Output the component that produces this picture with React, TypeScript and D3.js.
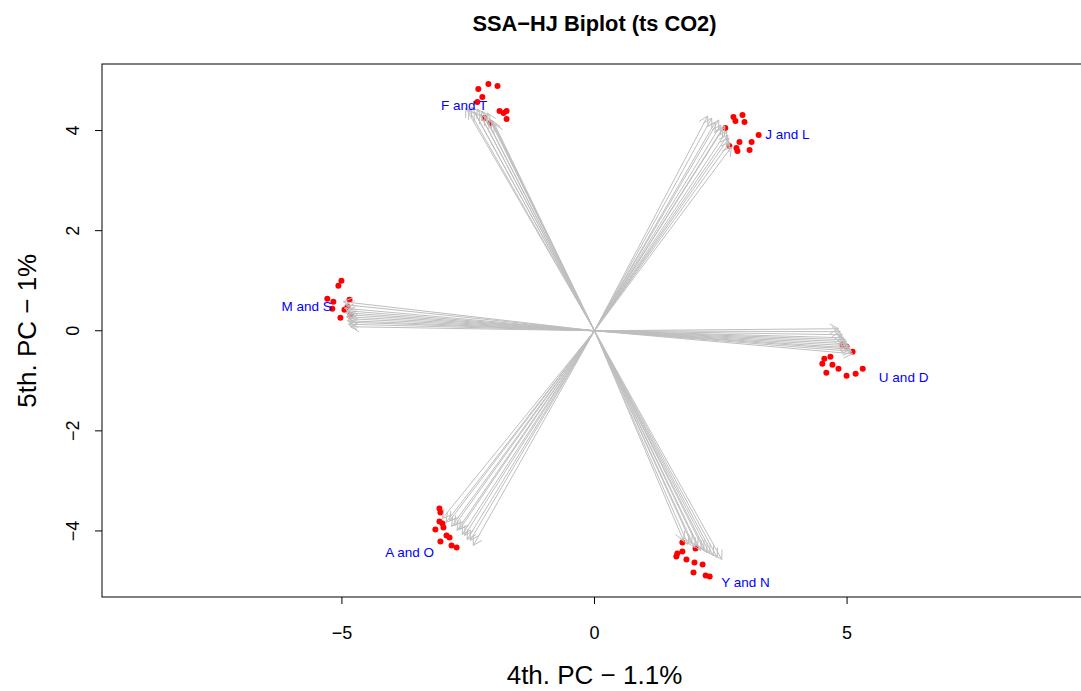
import React from "react";
import * as d3 from "d3";

// Arrow tips (loadings) per group
const groupNames = ["F and T", "J and L", "M and S", "U and D", "A and O", "Y and N"];

const arrowsFT: [number, number][] = [[-2.55, 4.45], [-2.49, 4.41], [-2.43, 4.47], [-2.38, 4.37], [-2.32, 4.43], [-2.27, 4.33], [-2.23, 4.39], [-2.17, 4.29], [-2.12, 4.35], [-2.08, 4.23], [-2.03, 4.19], [-1.98, 4.13]];
const arrowsJL: [number, number][] = [[2.24, 4.29], [2.32, 4.25], [2.39, 4.17], [2.46, 4.21], [2.50, 4.11], [2.54, 4.05], [2.58, 4.09], [2.62, 3.99], [2.64, 3.91], [2.66, 3.85], [2.68, 3.77], [2.71, 3.67]];
const arrowsMS: [number, number][] = [[-4.97, 0.58], [-4.93, 0.52], [-4.95, 0.45], [-4.91, 0.40], [-4.93, 0.36], [-4.89, 0.32], [-4.91, 0.28], [-4.87, 0.24], [-4.89, 0.20], [-4.85, 0.17], [-4.87, 0.13], [-4.83, 0.08]];
const arrowsUD: [number, number][] = [[4.83, 0.04], [4.87, -0.02], [4.91, -0.08], [4.93, -0.14], [4.97, -0.18], [4.99, -0.22], [5.01, -0.26], [5.03, -0.30], [5.05, -0.34], [5.07, -0.37], [5.09, -0.41], [5.11, -0.46]];
const arrowsAO: [number, number][] = [[-3.01, -3.75], [-2.94, -3.83], [-2.87, -3.80], [-2.83, -3.91], [-2.77, -3.89], [-2.72, -3.99], [-2.67, -3.97], [-2.62, -4.07], [-2.57, -4.09], [-2.52, -4.17], [-2.46, -4.19], [-2.40, -4.29]];
const arrowsYN: [number, number][] = [[1.76, -4.19], [1.85, -4.27], [1.92, -4.25], [1.98, -4.33], [2.04, -4.31], [2.10, -4.39], [2.16, -4.37], [2.22, -4.43], [2.28, -4.45], [2.35, -4.49], [2.43, -4.53], [2.52, -4.57]];

// Observation points per group
const pointsFT: [number, number][] = [[-2.30, 4.83], [-2.10, 4.93], [-1.92, 4.89], [-2.22, 4.67], [-2.32, 4.57], [-1.88, 4.39], [-1.80, 4.35], [-1.74, 4.39], [-1.74, 4.23], [-2.06, 4.15], [-2.18, 4.25]];
const pointsJL: [number, number][] = [[2.75, 4.27], [2.93, 4.31], [2.79, 4.19], [2.97, 4.17], [3.25, 3.91], [2.87, 3.77], [3.11, 3.77], [2.67, 3.69], [2.81, 3.65], [2.83, 3.59], [3.07, 3.61], [2.59, 4.05]];
const pointsMS: [number, number][] = [[-5.01, 1.00], [-5.07, 0.90], [-5.29, 0.64], [-5.17, 0.58], [-5.19, 0.44], [-4.85, 0.62], [-4.89, 0.48], [-4.95, 0.42], [-5.03, 0.26], [-4.83, 0.32]];
const pointsUD: [number, number][] = [[5.11, -0.42], [4.67, -0.52], [4.55, -0.56], [4.51, -0.66], [4.71, -0.68], [4.83, -0.76], [5.31, -0.76], [4.59, -0.84], [4.99, -0.90], [5.17, -0.86], [4.91, -0.28], [4.99, -0.32]];
const pointsAO: [number, number][] = [[-3.07, -3.55], [-3.05, -3.63], [-3.07, -3.81], [-3.01, -3.85], [-3.15, -3.97], [-2.99, -3.93], [-3.05, -4.21], [-2.83, -4.29], [-2.73, -4.33], [-2.93, -4.09], [-2.87, -4.13]];
const pointsYN: [number, number][] = [[1.62, -4.51], [1.64, -4.45], [1.74, -4.41], [1.82, -4.57], [1.98, -4.63], [2.14, -4.67], [1.96, -4.83], [2.20, -4.89], [2.28, -4.91], [1.74, -4.23], [2.00, -4.35]];

// Label positions
const labelPos: [number, number][] = [[-2.58, 4.51], [3.82, 3.93], [-5.70, 0.48], [6.12, -0.92], [-3.66, -4.43], [2.99, -5.03]];

const xTicks = [-5, 0, 5];
const yTicks = [-4, -2, 0, 2, 4];

const titleText = "SSA\u2212HJ Biplot (ts CO2)";
const xLabel = "4th. PC \u2212 1.1%";
const yLabel = "5th. PC \u2212 1%";

const allArrows = [arrowsFT, arrowsJL, arrowsMS, arrowsUD, arrowsAO, arrowsYN];
const allPoints = [pointsFT, pointsJL, pointsMS, pointsUD, pointsAO, pointsYN];

const W = 1081;
const H = 691;
const L = 102, R = 1087, T = 64, B = 597;

export default function App() {
  const x = d3.scaleLinear().domain([-9.75, 9.75]).range([L, R]);
  const y = d3.scaleLinear().domain([-5.32, 5.33]).range([B, T]);
  const font = "'Liberation Sans', Arial, sans-serif";
  const fmt = (v: number) => (v < 0 ? "\u2212" + Math.abs(v) : String(v));

  const head = 10;
  const ang = (30 * Math.PI) / 180;

  return (
    <svg width={W} height={H} style={{ position: "absolute", left: 0, top: 0, background: "#fff" }} fontFamily={font}>
      <rect x={0} y={0} width={W} height={H} fill="#fff" />
      <text x={(L + R) / 2} y={31} textAnchor="middle" fontWeight="bold" fontSize={21.8}>{titleText}</text>
      {allPoints.map((pts, gi) =>
        pts.map((p, i) => <circle key={`p${gi}-${i}`} cx={x(p[0])} cy={y(p[1])} r={3} fill="#FF0000" />)
      )}
      {allArrows.map((arr, gi) =>
        arr.map((a, i) => {
          const x0 = x(0), y0 = y(0);
          const x1 = x(a[0]), y1 = y(a[1]);
          const th = Math.atan2(y1 - y0, x1 - x0);
          const hx1 = x1 - head * Math.cos(th - ang), hy1 = y1 - head * Math.sin(th - ang);
          const hx2 = x1 - head * Math.cos(th + ang), hy2 = y1 - head * Math.sin(th + ang);
          return (
            <g key={`a${gi}-${i}`} stroke="#BEBEBE" strokeWidth={1} fill="none">
              <line x1={x0} y1={y0} x2={x1} y2={y1} />
              <polyline points={`${hx1},${hy1} ${x1},${y1} ${hx2},${hy2}`} />
            </g>
          );
        })
      )}
      {groupNames.map((n, i) => (
        <text key={n} x={x(labelPos[i][0])} y={y(labelPos[i][1])} dy="0.35em" textAnchor="middle" fontSize={13.5} fill="#0000FF">{n}</text>
      ))}
      <rect x={L} y={T} width={R - L} height={B - T} fill="none" stroke="#000" strokeWidth={1} />
      {xTicks.map((t) => (
        <g key={`xt${t}`}>
          <line x1={x(t)} x2={x(t)} y1={B} y2={B + 7} stroke="#000" />
          <text x={x(t)} y={639} textAnchor="middle" fontSize={18}>{fmt(t)}</text>
        </g>
      ))}
      {yTicks.map((t) => (
        <g key={`yt${t}`}>
          <line x1={L - 7} x2={L} y1={y(t)} y2={y(t)} stroke="#000" />
          <text transform={`translate(${79},${y(t)}) rotate(-90)`} textAnchor="middle" fontSize={18}>{fmt(t)}</text>
        </g>
      ))}
      <text x={(L + R) / 2} y={684} textAnchor="middle" fontSize={26}>{xLabel}</text>
      <text transform={`translate(${36},${y(0)}) rotate(-90)`} textAnchor="middle" fontSize={26}>{yLabel}</text>
    </svg>
  );
}
